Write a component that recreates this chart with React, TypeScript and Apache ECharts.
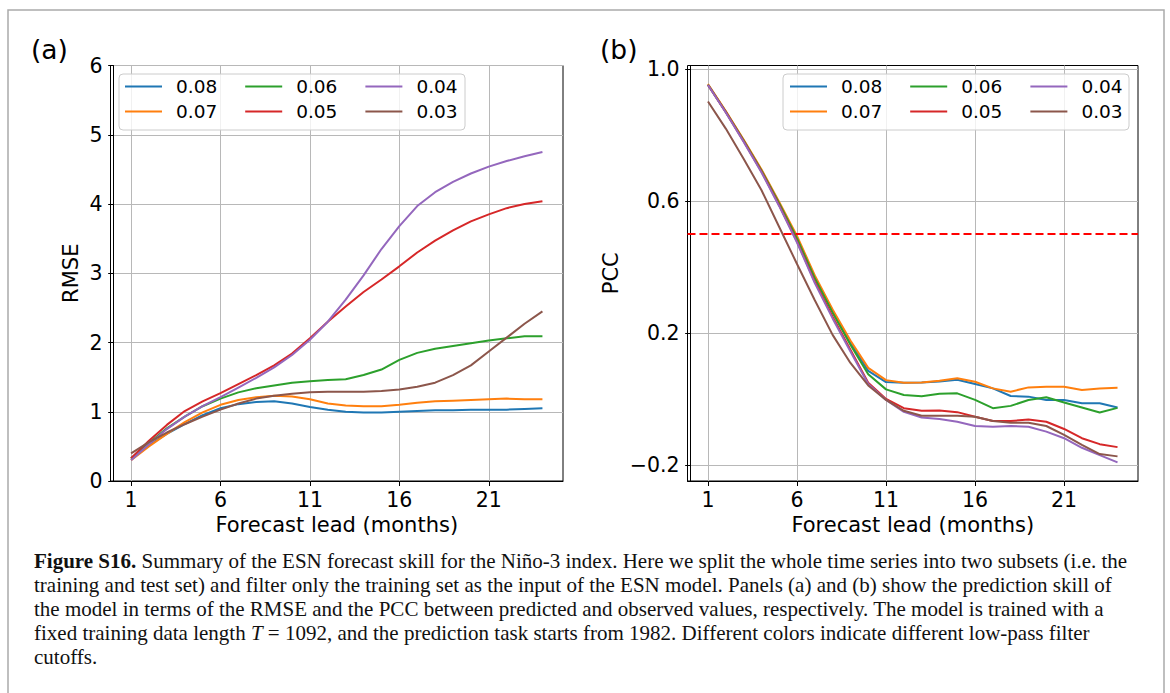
import React, { useEffect, useRef } from "react";
import * as echarts from "echarts";

const leads = [1, 2, 3, 4, 5, 6, 7, 8, 9, 10, 11, 12, 13, 14, 15, 16, 17, 18, 19, 20, 21, 22, 23, 24];
const cutoffs = ["0.08", "0.07", "0.06", "0.05", "0.04", "0.03"];
const colors = ["#1f77b4", "#ff7f0e", "#2ca02c", "#d62728", "#9467bd", "#8c564b"];

// RMSE (panel a)
const rmse008 = [0.33, 0.52, 0.68, 0.82, 0.95, 1.05, 1.11, 1.14, 1.15, 1.12, 1.07, 1.03, 1.0, 0.99, 0.99, 1.0, 1.01, 1.02, 1.02, 1.03, 1.03, 1.03, 1.04, 1.05];
const rmse007 = [0.3, 0.5, 0.68, 0.85, 0.99, 1.1, 1.17, 1.21, 1.23, 1.22, 1.18, 1.12, 1.09, 1.08, 1.08, 1.1, 1.13, 1.15, 1.16, 1.17, 1.18, 1.19, 1.18, 1.18];
const rmse006 = [0.32, 0.55, 0.76, 0.93, 1.08, 1.19, 1.28, 1.34, 1.38, 1.42, 1.44, 1.46, 1.47, 1.53, 1.61, 1.75, 1.85, 1.91, 1.95, 1.99, 2.03, 2.06, 2.09, 2.09];
const rmse005 = [0.33, 0.58, 0.81, 1.01, 1.15, 1.27, 1.4, 1.53, 1.67, 1.84, 2.06, 2.3, 2.52, 2.73, 2.91, 3.1, 3.3, 3.47, 3.62, 3.75, 3.85, 3.94, 4.0, 4.04];
const rmse004 = [0.3, 0.53, 0.75, 0.93, 1.08, 1.21, 1.35, 1.49, 1.64, 1.82, 2.04, 2.3, 2.62, 2.97, 3.35, 3.68, 3.97, 4.17, 4.32, 4.44, 4.54, 4.62, 4.69, 4.75];
const rmse003 = [0.4, 0.56, 0.7, 0.82, 0.93, 1.03, 1.12, 1.19, 1.23, 1.26, 1.28, 1.29, 1.29, 1.29, 1.3, 1.32, 1.36, 1.42, 1.53, 1.67, 1.87, 2.07, 2.27, 2.45];

// PCC (panel b)
const pcc008 = [0.953, 0.871, 0.785, 0.694, 0.594, 0.49, 0.37, 0.268, 0.172, 0.086, 0.052, 0.05, 0.051, 0.054, 0.059, 0.046, 0.033, 0.01, 0.008, -0.002, -0.002, -0.012, -0.012, -0.025];
const pcc007 = [0.955, 0.873, 0.787, 0.697, 0.598, 0.495, 0.375, 0.272, 0.178, 0.095, 0.058, 0.05, 0.051, 0.056, 0.064, 0.053, 0.033, 0.023, 0.036, 0.038, 0.038, 0.028, 0.033, 0.035];
const pcc006 = [0.953, 0.871, 0.784, 0.693, 0.593, 0.487, 0.367, 0.262, 0.165, 0.076, 0.03, 0.013, 0.009, 0.017, 0.018, -0.002, -0.027, -0.02, -0.002, 0.006, -0.01, -0.025, -0.04, -0.026];
const pcc005 = [0.952, 0.87, 0.782, 0.69, 0.588, 0.478, 0.356, 0.25, 0.15, 0.05, 0.001, -0.027, -0.035, -0.034, -0.039, -0.053, -0.066, -0.066, -0.061, -0.068, -0.09, -0.118, -0.136, -0.145];
const pcc004 = [0.952, 0.869, 0.78, 0.688, 0.585, 0.475, 0.352, 0.245, 0.145, 0.046, -0.002, -0.038, -0.055, -0.06, -0.068, -0.081, -0.083, -0.081, -0.083, -0.098, -0.118, -0.147, -0.169, -0.191];
const pcc003 = [0.902, 0.82, 0.729, 0.634, 0.522, 0.41, 0.3, 0.195, 0.11, 0.042, -0.002, -0.035, -0.05, -0.05, -0.05, -0.053, -0.066, -0.071, -0.071, -0.081, -0.108, -0.138, -0.166, -0.173];

const xTicks = [1, 6, 11, 16, 21];
const rmseTicks = [0, 1, 2, 3, 4, 5, 6];
const pccTicks = [-0.2, 0.2, 0.6, 1.0];
const pccThreshold = 0.5;

const legendRow1 = ["0.08", "0.06", "0.04"];
const legendRow2 = ["0.07", "0.05", "0.03"];

const captionLines = [
  "{b|Figure S16.} Summary of the ESN forecast skill for the Niño-3 index. Here we split the whole time series into two subsets (i.e. the",
  "training and test set) and filter only the training set as the input of the ESN model. Panels (a) and (b) show the prediction skill of",
  "the model in terms of the RMSE and the PCC between predicted and observed values, respectively. The model is trained with a",
  "fixed training data length {i|T} = 1092, and the prediction task starts from 1982. Different colors indicate different low-pass filter",
  "cutoffs.",
];

const SANS = "DejaVu Sans";
const SERIF = "Liberation Serif";
const TICK_FS = 20.5;
const LABEL_FS = 21;
const LEGEND_FS = 18.5;
const CAP_FS = 21;

export default function App() {
  const ref = useRef<HTMLDivElement>(null);

  useEffect(() => {
    if (!ref.current) return;
    const chart = echarts.init(ref.current, null, { renderer: "svg" });

    const rmseSets = [rmse008, rmse007, rmse006, rmse005, rmse004, rmse003];
    const pccSets = [pcc008, pcc007, pcc006, pcc005, pcc004, pcc003];

    const mkSeries = (vals: number[], i: number, gi: number) => ({
      type: "line",
      name: cutoffs[i],
      xAxisIndex: gi,
      yAxisIndex: gi,
      data: leads.map((x, k) => [x, vals[k]]),
      symbol: "none",
      showSymbol: false,
      smooth: false,
      color: colors[i],
      lineStyle: { color: colors[i], width: 2 },
      z: 2,
    });

    const xAxisBase = (gi: number) => ({
      type: "value",
      gridIndex: gi,
      min: -0.15,
      max: 25.15,
      axisLine: { show: true, onZero: false, lineStyle: { color: "#000", width: 1 } },
      axisTick: { show: true, inside: false, length: 5, customValues: xTicks, lineStyle: { color: "#000", width: 1 } },
      axisLabel: { customValues: xTicks, fontSize: TICK_FS, fontFamily: SANS, color: "#000", margin: 8 },
      splitLine: { show: true, lineStyle: { color: "#b8b8b8", width: 1 } },
      name: "Forecast lead (months)",
      nameLocation: "middle",
      nameGap: 33,
      nameTextStyle: { fontSize: LABEL_FS, fontFamily: SANS, color: "#000" },
    });

    const legendCommon = {
      orient: "horizontal",
      itemWidth: 37,
      itemHeight: 2,
      icon: "rect",
      itemGap: 28,
      padding: 0,
      selectedMode: false,
      z: 20,
      textStyle: { fontSize: LEGEND_FS, fontFamily: SANS, color: "#000", padding: [0, 0, 0, 9] },
    };

    const fmtPcc = (v: number) => (v < 0 ? "\u2212" : "") + Math.abs(v).toFixed(1);

    const option: any = {
      animation: false,
      backgroundColor: "#fff",
      grid: [
        { left: 110.5, top: 65.5, width: 452.5, height: 415.5, show: true, borderColor: "#000", borderWidth: 1, backgroundColor: "transparent" },
        { left: 687.5, top: 65.5, width: 450.5, height: 415.5, show: true, borderColor: "#000", borderWidth: 1, backgroundColor: "transparent" },
      ],
      xAxis: [xAxisBase(0), xAxisBase(1)],
      yAxis: [
        {
          type: "value",
          gridIndex: 0,
          min: 0,
          max: 6,
          interval: 1,
          axisLine: { show: true, lineStyle: { color: "#000", width: 1 } },
          axisTick: { show: true, length: 5, customValues: rmseTicks, lineStyle: { color: "#000" } },
          axisLabel: { customValues: rmseTicks, fontSize: TICK_FS, fontFamily: SANS, color: "#000", margin: 8 },
          splitLine: { show: true, lineStyle: { color: "#b8b8b8", width: 1 } },
          name: "RMSE",
          nameLocation: "middle",
          nameGap: 29,
          nameRotate: 90,
          nameTextStyle: { fontSize: LABEL_FS, fontFamily: SANS, color: "#000" },
        },
        {
          type: "value",
          gridIndex: 1,
          min: -0.2476,
          max: 1.0112,
          axisLine: { show: true, lineStyle: { color: "#000", width: 1 } },
          axisTick: { show: true, length: 5, customValues: pccTicks, lineStyle: { color: "#000" } },
          axisLabel: { customValues: pccTicks, formatter: fmtPcc, fontSize: TICK_FS, fontFamily: SANS, color: "#000", margin: 8 },
          splitLine: { show: true, lineStyle: { color: "#b8b8b8", width: 1 } },
          name: "PCC",
          nameLocation: "middle",
          nameGap: 66,
          nameRotate: 90,
          nameTextStyle: { fontSize: LABEL_FS, fontFamily: SANS, color: "#000" },
        },
      ],
      legend: [
        { ...legendCommon, data: legendRow1, left: 125, top: 77 },
        { ...legendCommon, data: legendRow2, left: 125, top: 102 },
        { ...legendCommon, data: legendRow1, left: 790, top: 77 },
        { ...legendCommon, data: legendRow2, left: 790, top: 102 },
      ],
      series: [
        ...rmseSets.map((v, i) => mkSeries(v, i, 0)),
        ...pccSets.map((v, i) => mkSeries(v, i, 1)),
        {
          type: "line",
          name: "threshold",
          xAxisIndex: 1,
          yAxisIndex: 1,
          data: [],
          silent: true,
          z: 3,
          markLine: {
            silent: true,
            symbol: ["none", "none"],
            label: { show: false },
            lineStyle: { color: "#ff0000", width: 1.8, type: [8, 4] },
            data: [{ yAxis: pccThreshold }],
          },
        },
      ],
      graphic: [
        { type: "rect", z: 0, silent: true, shape: { x: 8, y: 10, width: 1156, height: 720 }, style: { fill: "none", stroke: "#aaaaaa", lineWidth: 1.5 } },
        { type: "rect", z: 10, silent: true, shape: { x: 119, y: 74, width: 346, height: 56, r: 4 }, style: { fill: "rgba(255,255,255,0.8)", stroke: "#cccccc", lineWidth: 1 } },
        { type: "rect", z: 10, silent: true, shape: { x: 783, y: 74, width: 346, height: 56, r: 4 }, style: { fill: "rgba(255,255,255,0.8)", stroke: "#cccccc", lineWidth: 1 } },
        { type: "text", z: 10, x: 31, y: 49, style: { text: "(a)", fontSize: 26.5, fontFamily: SANS, fill: "#000", verticalAlign: "middle", align: "left" } },
        { type: "text", z: 10, x: 600, y: 49, style: { text: "(b)", fontSize: 26.5, fontFamily: SANS, fill: "#000", verticalAlign: "middle", align: "left" } },
        ...captionLines.map((t, k) => ({
          type: "text",
          z: 10,
          x: 34,
          y: 561 + k * 24,
          style: {
            text: t,
            fontSize: CAP_FS,
            fontFamily: SERIF,
            fill: "#111",
            verticalAlign: "middle",
            align: "left",
            rich: {
              b: { fontSize: CAP_FS, fontFamily: SERIF, fontWeight: "bold", fill: "#111" },
              i: { fontSize: CAP_FS, fontFamily: SERIF, fontStyle: "italic", fill: "#111" },
            },
          },
        })),
      ],
    };

    chart.setOption(option);
    return () => chart.dispose();
  }, []);

  return (
    <div
      ref={ref}
      style={{ position: "absolute", left: 0, top: 0, width: 1170, height: 693, background: "#fff" }}
    />
  );
}
